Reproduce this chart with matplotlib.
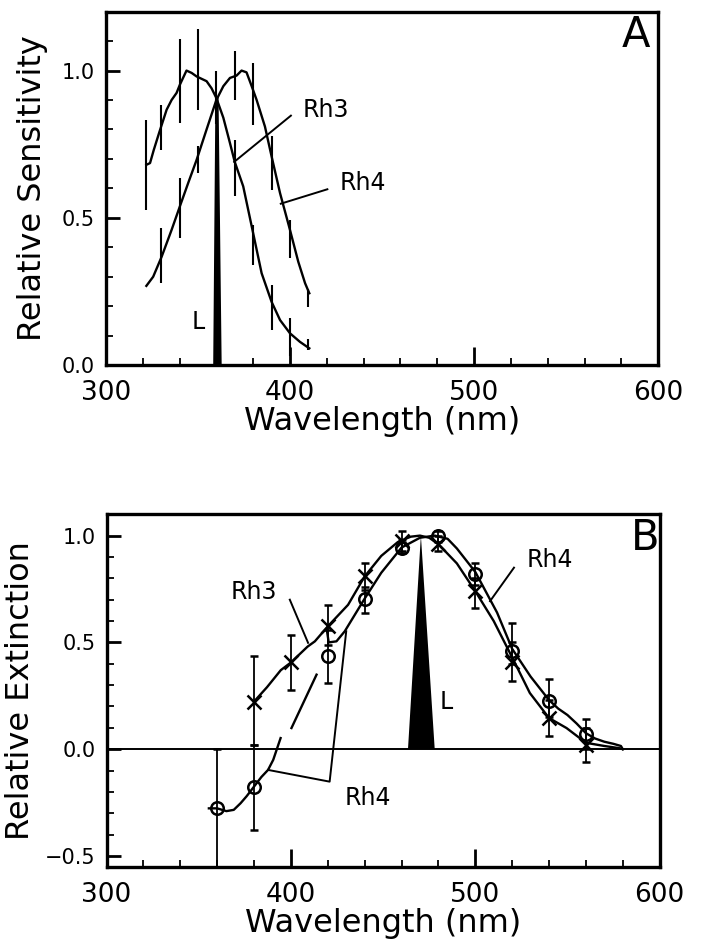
import matplotlib
matplotlib.use("Agg")
import matplotlib.pyplot as plt
from matplotlib.ticker import MultipleLocator, FuncFormatter

# ---------------- Panel A data ----------------
a_rh3_wl = [322, 324, 326, 329, 333, 335.7, 338.4, 340.2, 343.8, 346.6, 349.3, 354.7, 357.4, 360,
            363.8, 367.4, 370, 374.6, 380, 384.6, 390, 394.6, 400, 405.4, 410.5]
a_rh3_val = [0.68, 0.686, 0.73, 0.79, 0.867, 0.90, 0.924, 0.952, 1.0, 0.992, 0.98, 0.964, 0.94, 0.907,
             0.84, 0.754, 0.69, 0.607, 0.448, 0.312, 0.215, 0.153, 0.108, 0.079, 0.057]
a_rh4_wl = [322, 325.7, 330.3, 335.7, 340.2, 344.7, 349.3, 354.7, 360, 363.8, 367.4, 371, 373.7,
            376.4, 379.2, 381.9, 386.4, 390, 394.6, 400, 404.5, 408.2, 410.5]
a_rh4_val = [0.269, 0.30, 0.368, 0.459, 0.539, 0.618, 0.697, 0.80, 0.90, 0.947, 0.975, 0.983, 1.0,
             0.994, 0.947, 0.90, 0.81, 0.709, 0.584, 0.459, 0.351, 0.278, 0.244]
a_rh3_err_wl = [322, 330, 340, 350, 360, 370, 380, 390, 400, 410]
a_rh3_err_lo = [0.527, 0.731, 0.822, 0.867, 0.82, 0.573, 0.340, 0.119, 0.03, 0.05]
a_rh3_err_hi = [0.833, 0.884, 1.108, 1.142, 1.0, 0.765, 0.476, 0.272, 0.159, 0.09]
a_rh4_err_wl = [330, 340, 350, 370, 380, 390, 400, 410]
a_rh4_err_lo = [0.278, 0.43, 0.652, 0.90, 0.816, 0.595, 0.363, 0.198]
a_rh4_err_hi = [0.465, 0.635, 0.743, 1.066, 1.026, 0.777, 0.493, 0.257]
a_light_wl = [358.3, 359.5, 361.2, 362.9]
a_light_val = [0.0, 0.91, 0.91, 0.0]

# ---------------- Panel B data ----------------
b_rh3_pt_wl = [380, 400, 420, 440, 460, 480, 500, 520, 540, 560]
b_rh3_pt_val = [0.223, 0.406, 0.575, 0.809, 0.975, 0.96, 0.74, 0.41, 0.146, 0.02]
b_rh3_err_lo = [0.02, 0.275, 0.489, 0.747, 0.93, 0.93, 0.66, 0.32, 0.06, -0.058]
b_rh3_err_hi = [0.434, 0.533, 0.677, 0.872, 1.02, 1.0, 0.80, 0.50, 0.23, 0.10]

b_rh4_pt_wl = [360, 380, 420, 440, 460, 480, 500, 520, 540, 560]
b_rh4_pt_val = [-0.277, -0.175, 0.4375, 0.705, 0.944, 0.998, 0.82, 0.458, 0.224, 0.072]
b_rh4_err_lo = [-0.65, -0.378, 0.31, 0.64, 0.92, 0.97, 0.77, 0.40, 0.15, 0.0]
b_rh4_err_hi = [0.0, 0.02, 0.56, 0.76, 0.98, 1.02, 0.873, 0.59, 0.33, 0.141]

b_rh3_wl = [380, 387, 394.5, 400, 409, 413, 420, 431, 440, 449, 458, 465, 470, 475, 480, 490,
            500, 510, 520, 529.6, 540, 549.5, 560, 570, 578, 580]
b_rh3_val = [0.223, 0.29, 0.37, 0.406, 0.48, 0.505, 0.575, 0.676, 0.809, 0.905, 0.97, 0.995, 1.0,
             0.99, 0.96, 0.87, 0.74, 0.60, 0.43, 0.263, 0.146, 0.099, 0.03, 0.015, 0.005, 0.0]
b_rh4_wl_1 = [355.5, 360, 365, 369, 372.7, 376, 380, 384, 387.6, 390.4, 394.4]
b_rh4_val_1 = [-0.277, -0.277, -0.29, -0.284, -0.253, -0.22, -0.175, -0.13, -0.097, -0.05, 0.052]
b_rh4_wl_2 = [400.3, 413.9]
b_rh4_val_2 = [0.099, 0.349]
b_rh4_wl_3 = [419.6, 420.5, 424.7, 429.2, 440, 449, 460, 470, 478, 485, 490, 500, 511.8, 520, 530,
              540, 545, 550, 555, 560, 565, 570, 575, 579, 580]
b_rh4_val_3 = [0.552, 0.50, 0.505, 0.552, 0.705, 0.826, 0.944, 0.99, 1.0, 0.985, 0.94, 0.83, 0.64,
               0.47, 0.34, 0.23, 0.19, 0.16, 0.12, 0.075, 0.05, 0.035, 0.025, 0.015, 0.0]
b_light_wl = [463.5, 470.5, 478]
b_light_val = [0.0, 1.0, 0.0]

x_major = [300, 400, 500, 600]

plt.rcParams['font.family'] = ['DejaVu Sans']
plt.rcParams['axes.unicode_minus'] = True

fig = plt.figure(figsize=(7.01, 9.41), dpi=100)
axA = fig.add_axes([0.151, 0.612, 0.788, 0.3756])
axB = fig.add_axes([0.152, 0.079, 0.789, 0.3745])

lw = 1.7
yfmt = FuncFormatter(lambda v, p: ('%.1f' % v).replace('-', '\u2212'))
for ax in (axA, axB):
    for s in ax.spines.values():
        s.set_linewidth(2.4)
    ax.set_xlim(300, 600)
    ax.set_xticks(x_major)
    ax.xaxis.set_minor_locator(MultipleLocator(20))
    ax.yaxis.set_minor_locator(MultipleLocator(0.1))
    ax.yaxis.set_major_formatter(yfmt)
    ax.tick_params(axis='x', which='major', direction='in', length=13, width=2.0,
                   labelsize=19, pad=11)
    ax.tick_params(axis='x', which='minor', direction='in', length=5, width=1.3)
    ax.tick_params(axis='y', which='major', direction='in', length=10, width=2.0,
                   labelsize=15, pad=8)
    ax.tick_params(axis='y', which='minor', direction='in', length=5, width=1.3)
    ax.set_xlabel('Wavelength (nm)', fontsize=23, labelpad=0)

# ---------- Panel A ----------
axA.set_ylim(0, 1.2)
axA.set_yticks([0.0, 0.5, 1.0])
axA.plot(a_rh3_wl, a_rh3_val, color='black', lw=lw)
axA.plot(a_rh4_wl, a_rh4_val, color='black', lw=lw)
axA.vlines(a_rh3_err_wl, a_rh3_err_lo, a_rh3_err_hi, color='black', lw=1.5)
axA.vlines(a_rh4_err_wl, a_rh4_err_lo, a_rh4_err_hi, color='black', lw=1.5)
axA.fill(a_light_wl, a_light_val, color='black', lw=0)
axA.text(346.6, 0.147, 'L', fontsize=17, va='center', ha='left')
axA.text(407, 0.867, 'Rh3', fontsize=17, va='center', ha='left')
axA.plot([400.5, 369.7], [0.847, 0.69], color='black', lw=1.4)
axA.text(427, 0.618, 'Rh4', fontsize=17, va='center', ha='left')
axA.plot([420.3, 395], [0.597, 0.548], color='black', lw=1.4)
axA.text(588, 1.12, 'A', fontsize=30, va='center', ha='center')
axA.set_ylabel('Relative Sensitivity', fontsize=23, labelpad=10)

# ---------- Panel B ----------
axB.set_ylim(-0.55, 1.1)
axB.set_yticks([-0.5, 0.0, 0.5, 1.0])
axB.axhline(0, color='black', lw=1.4)
axB.plot(b_rh3_wl, b_rh3_val, color='black', lw=lw)
axB.plot(b_rh4_wl_1, b_rh4_val_1, color='black', lw=lw)
axB.plot(b_rh4_wl_2, b_rh4_val_2, color='black', lw=lw)
axB.plot(b_rh4_wl_3, b_rh4_val_3, color='black', lw=lw)
axB.fill(b_light_wl, b_light_val, color='black', lw=0)

rh3_yerr = [[v - lo for v, lo in zip(b_rh3_pt_val, b_rh3_err_lo)],
            [hi - v for v, hi in zip(b_rh3_pt_val, b_rh3_err_hi)]]
rh4_yerr = [[v - lo for v, lo in zip(b_rh4_pt_val, b_rh4_err_lo)],
            [hi - v for v, hi in zip(b_rh4_pt_val, b_rh4_err_hi)]]
axB.errorbar(b_rh3_pt_wl, b_rh3_pt_val, yerr=rh3_yerr, fmt='x', color='black', ms=10, mew=1.8,
             elinewidth=1.3, capsize=3, capthick=1.3)
axB.errorbar(b_rh4_pt_wl, b_rh4_pt_val, yerr=rh4_yerr, fmt='o', color='black', mfc='none',
             ms=9, mew=1.8, elinewidth=1.3, capsize=3, capthick=1.3)

axB.text(367.3, 0.734, 'Rh3', fontsize=17, va='center', ha='left')
axB.plot([399.4, 409.3], [0.70, 0.498], color='black', lw=1.4)
axB.text(528, 0.885, 'Rh4', fontsize=17, va='center', ha='left')
axB.plot([521, 508], [0.85, 0.693], color='black', lw=1.4)
axB.text(429, -0.23, 'Rh4', fontsize=17, va='center', ha='left')
axB.plot([387.6, 421, 430], [-0.097, -0.152, 0.552], color='black', lw=1.4)
axB.text(480.5, 0.22, 'L', fontsize=17, va='center', ha='left')
axB.text(592, 0.99, 'B', fontsize=30, va='center', ha='center')
axB.set_ylabel('Relative Extinction', fontsize=23, labelpad=6)

fig.savefig('out.png', dpi=100)
